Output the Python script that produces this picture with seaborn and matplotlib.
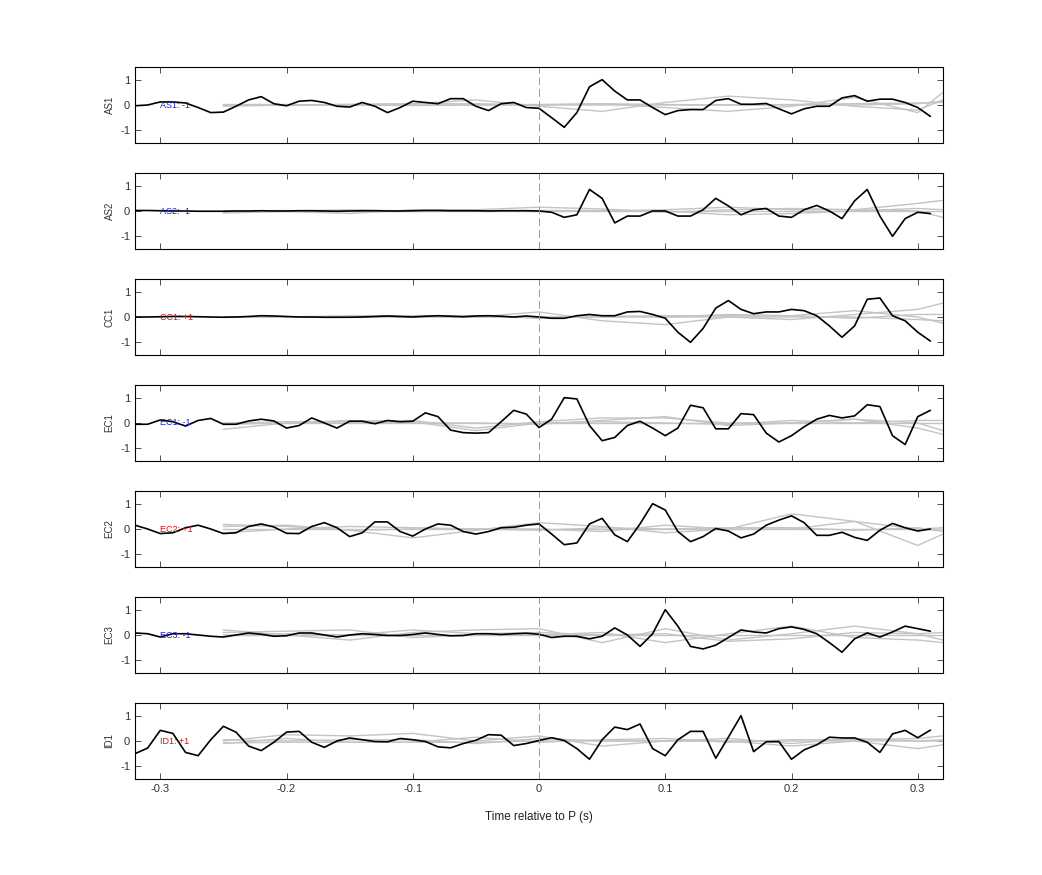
import numpy as np
import pandas as pd
import matplotlib
matplotlib.use("Agg")
import matplotlib.pyplot as plt
import seaborn as sns

sns.set_style("white")
plt.rcParams['font.family'] = ['Liberation Sans', 'DejaVu Sans']

time = np.round(np.arange(-0.32, 0.315, 0.01), 2)
gray_time = [-0.25, -0.20, -0.15, -0.10, -0.05, 0.0, 0.05, 0.10, 0.15, 0.20, 0.25, 0.30, 0.32]

stations = ["AS1", "AS2", "CC1", "EC1", "EC2", "EC3", "ID1"]
labels = ["AS1: -1", "AS2: -1", "CC1: +1", "EC1: -1", "EC2: +1", "EC3: -1", "ID1: +1"]
label_colors = ["#1f1fd0", "#1f1fd0", "#d01010", "#1f1fd0", "#d01010", "#1f1fd0", "#d01010"]

AS1 = [-0.03, 0, 0.12, 0.12, 0.08, -0.1, -0.3, -0.28, -0.05, 0.2, 0.33, 0.05, -0.03, 0.15, 0.18, 0.1,
       -0.05, -0.08, 0.1, -0.05, -0.3, -0.1, 0.15, 0.1, 0.05, 0.25, 0.25, -0.05, -0.22, 0.05, 0.1, -0.1,
       -0.13, -0.5, -0.88, -0.3, 0.72, 1.0, 0.55, 0.2, 0.2, -0.1, -0.38, -0.22, -0.18, -0.18, 0.18, 0.25,
       0.03, 0.03, 0.06, -0.15, -0.35, -0.15, -0.05, -0.05, 0.28, 0.37, 0.15, 0.23, 0.23, 0.1, -0.1, -0.45]
AS2 = [0.02, 0.02, 0.01, 0.0, 0.0, -0.01, -0.01, -0.01, 0.0, 0.0, 0.01, 0.0, 0.0, 0.01, 0.01, 0.0,
       -0.01, 0.0, 0.01, 0.01, 0.0, 0.0, 0.01, 0.02, 0.02, 0.01, 0.01, 0.01, 0.0, 0.01, 0.01, 0.01,
       0.0, -0.05, -0.25, -0.15, 0.85, 0.5, -0.47, -0.2, -0.2, 0.0, 0.0, -0.2, -0.2, 0.05, 0.5, 0.2,
       -0.15, 0.05, 0.1, -0.2, -0.25, 0.05, 0.22, 0.0, -0.3, 0.4, 0.85, -0.2, -1.0, -0.3, -0.05, -0.1]
CC1 = [0.0, 0.0, 0.01, 0.02, 0.02, 0.01, 0.0, -0.01, 0.0, 0.02, 0.05, 0.04, 0.02, 0.0, 0.0, -0.01,
       -0.01, -0.01, 0.0, 0.02, 0.04, 0.02, 0.0, 0.03, 0.05, 0.03, 0.01, 0.04, 0.05, 0.03, 0.0, 0.04,
       0.0, -0.05, -0.05, 0.05, 0.1, 0.05, 0.05, 0.2, 0.22, 0.1, -0.05, -0.6, -1.0, -0.45, 0.35, 0.65,
       0.3, 0.13, 0.2, 0.2, 0.3, 0.25, 0.05, -0.35, -0.8, -0.35, 0.7, 0.75, 0.05, -0.15, -0.6, -0.95]
EC1 = [-0.05, -0.05, 0.12, 0.05, -0.12, 0.1, 0.18, -0.05, -0.05, 0.08, 0.15, 0.08, -0.2, -0.1, 0.2, 0.0,
       -0.2, 0.07, 0.07, -0.03, 0.1, 0.05, 0.07, 0.4, 0.25, -0.28, -0.38, -0.4, -0.38, 0.05, 0.5, 0.35,
       -0.18, 0.15, 1.0, 0.95, -0.1, -0.7, -0.57, -0.1, 0.07, -0.2, -0.5, -0.2, 0.7, 0.6, -0.23, -0.23,
       0.37, 0.33, -0.4, -0.75, -0.5, -0.15, 0.15, 0.3, 0.2, 0.28, 0.72, 0.65, -0.5, -0.85, 0.25, 0.5]
EC2 = [0.15, 0.0, -0.18, -0.15, 0.05, 0.15, 0.0, -0.18, -0.15, 0.1, 0.2, 0.08, -0.17, -0.18, 0.1, 0.25,
       0.05, -0.3, -0.15, 0.28, 0.28, -0.1, -0.28, 0.0, 0.2, 0.15, -0.1, -0.2, -0.1, 0.05, 0.07, 0.15,
       0.2, -0.2, -0.62, -0.55, 0.2, 0.42, -0.23, -0.5, 0.2, 1.0, 0.75, -0.1, -0.5, -0.3, 0.02, -0.08,
       -0.35, -0.2, 0.15, 0.35, 0.52, 0.25, -0.25, -0.25, -0.13, -0.33, -0.45, -0.05, 0.22, 0.05, -0.08, 0.0]
EC3 = [0.08, 0.05, -0.08, 0.05, 0.05, 0.0, -0.05, -0.08, 0.0, 0.08, 0.03, -0.05, -0.03, 0.08, 0.08, 0.0,
       -0.08, 0.0, 0.05, 0.02, -0.02, -0.02, 0.02, 0.08, 0.02, -0.03, -0.02, 0.05, 0.05, 0.02, 0.05, 0.07,
       0.03, -0.1, -0.05, -0.05, -0.15, -0.05, 0.28, 0.0, -0.45, 0.05, 1.0, 0.35, -0.45, -0.55, -0.4, -0.1,
       0.2, 0.12, 0.08, 0.25, 0.32, 0.22, 0.05, -0.3, -0.68, -0.15, 0.08, -0.08, 0.12, 0.35, 0.25, 0.15]
ID1 = [-0.5, -0.28, 0.42, 0.3, -0.45, -0.58, 0.05, 0.58, 0.35, -0.2, -0.38, -0.05, 0.35, 0.38, -0.05, -0.25,
       0.0, 0.12, 0.05, -0.02, -0.03, 0.1, 0.05, -0.02, -0.23, -0.27, -0.1, 0.03, 0.25, 0.23, -0.18, -0.1,
       0.02, 0.13, 0.02, -0.3, -0.72, 0.05, 0.55, 0.45, 0.67, -0.3, -0.58, 0.05, 0.38, 0.38, -0.68, 0.15,
       1.0, -0.42, -0.03, -0.02, -0.72, -0.35, -0.15, 0.15, 0.12, 0.12, -0.05, -0.45, 0.28, 0.42, 0.13, 0.43]
black = [AS1, AS2, CC1, EC1, EC2, EC3, ID1]

# grey comparison traces (4 per station), values at gray_time
gray_AS1 = [[0.02, 0.02, 0.0, -0.02, 0.0, 0.02, 0.05, 0.02, 0.0, 0.02, 0.05, 0.08, 0.1],
            [-0.05, 0.0, 0.03, 0.05, 0.2, -0.05, -0.25, 0.1, 0.35, 0.2, -0.05, -0.2, 0.2],
            [0.0, -0.02, 0.0, 0.05, 0.05, 0.0, 0.05, -0.1, -0.25, -0.05, 0.3, -0.3, 0.5],
            [0.0, 0.0, 0.0, 0.0, 0.0, 0.0, 0.0, 0.0, 0.0, 0.0, 0.0, 0.05, 0.15]]
gray_AS2 = [[-0.08, -0.02, -0.1, 0.05, 0.05, 0.15, 0.08, -0.05, 0.05, 0.1, 0.05, 0.3, 0.42],
            [0.0, 0.02, 0.0, -0.02, 0.0, 0.02, 0.02, 0.0, -0.15, -0.1, 0.0, 0.1, 0.05],
            [-0.05, 0.0, 0.05, 0.0, 0.02, -0.02, 0.0, 0.05, 0.15, 0.05, 0.05, 0.0, -0.25],
            [0.0, 0.0, 0.0, 0.0, 0.0, 0.0, 0.0, 0.0, 0.0, 0.0, 0.0, 0.0, 0.0]]
gray_CC1 = [[0.0, 0.0, 0.05, 0.05, 0.0, 0.2, -0.15, -0.3, 0.0, -0.1, 0.1, 0.3, 0.55],
            [0.0, 0.0, 0.0, 0.0, 0.0, 0.0, 0.0, 0.05, 0.05, 0.05, 0.25, 0.0, -0.25],
            [0.0, 0.0, 0.0, 0.05, 0.05, -0.05, 0.05, 0.0, 0.1, 0.05, -0.05, 0.1, 0.1],
            [0.0, 0.0, 0.0, 0.0, 0.0, 0.0, 0.0, 0.0, 0.0, 0.0, 0.0, -0.1, -0.15]]
gray_EC1 = [[-0.25, 0.0, 0.05, 0.1, -0.2, 0.05, 0.2, 0.2, 0.0, 0.0, 0.15, 0.0, -0.3],
            [0.0, 0.05, 0.05, 0.0, 0.0, -0.05, 0.1, 0.25, -0.1, 0.0, 0.15, -0.2, -0.45],
            [-0.05, 0.0, 0.1, 0.05, -0.3, 0.0, 0.05, 0.0, -0.05, 0.1, 0.0, 0.1, 0.1],
            [0.0, 0.0, 0.0, 0.0, 0.0, 0.0, 0.0, 0.0, 0.0, 0.0, 0.0, 0.0, 0.0]]
gray_EC2 = [[0.18, 0.1, -0.05, -0.35, -0.05, 0.25, 0.1, -0.15, 0.0, 0.6, 0.3, -0.65, -0.2],
            [0.1, 0.15, -0.05, 0.0, 0.0, 0.0, -0.1, 0.15, 0.0, 0.0, 0.3, 0.0, 0.05],
            [-0.15, 0.0, 0.1, 0.05, 0.0, -0.05, 0.05, 0.0, 0.05, 0.05, -0.05, 0.05, -0.1],
            [0.0, 0.0, 0.0, 0.0, 0.0, 0.0, 0.0, 0.0, 0.0, 0.0, 0.0, 0.0, 0.0]]
gray_EC3 = [[0.2, 0.0, -0.2, 0.1, 0.2, 0.25, -0.3, 0.25, -0.2, 0.05, 0.35, 0.05, -0.2],
            [0.1, 0.15, 0.2, -0.1, 0.0, 0.0, 0.1, -0.3, 0.05, 0.35, -0.1, -0.2, -0.3],
            [0.0, 0.05, 0.0, 0.2, 0.05, 0.1, 0.0, 0.05, -0.25, -0.15, 0.1, 0.05, 0.1],
            [0.0, 0.0, 0.0, 0.0, 0.0, 0.0, 0.0, 0.0, 0.0, 0.0, 0.0, 0.0, 0.0]]
gray_ID1 = [[0.0, 0.25, 0.2, 0.3, 0.0, 0.2, -0.2, 0.0, 0.0, -0.2, 0.0, -0.3, -0.15],
            [-0.1, 0.1, -0.05, -0.05, 0.15, -0.05, 0.05, 0.1, -0.05, 0.05, 0.05, 0.1, 0.2],
            [0.05, 0.0, 0.05, 0.05, -0.1, 0.1, 0.0, 0.0, 0.1, -0.1, 0.1, 0.0, 0.05],
            [-0.08, -0.05, -0.05, -0.05, -0.05, 0.0, 0.0, 0.0, 0.0, 0.0, 0.0, 0.0, 0.0]]
grays = [gray_AS1, gray_AS2, gray_CC1, gray_EC1, gray_EC2, gray_EC3, gray_ID1]

fig = plt.figure(figsize=(10.42, 8.75), dpi=100)
left, width = 135 / 1042, (943 - 135) / 1042
h = 76 / 875
for i, st in enumerate(stations):
    top = 67 + i * 106
    ax = fig.add_axes([left, 1 - (top + 76) / 875, width, h])
    for g in grays[i]:
        sns.lineplot(x=gray_time, y=g, ax=ax, color="#c4c4c4", lw=1.0, estimator=None)
    sns.lineplot(x=time, y=black[i], ax=ax, color="black", lw=1.2, estimator=None)
    ax.axvline(0, color="#999999", lw=0.7, ls=(0, (8, 4)))
    ax.text(-0.3, 0, labels[i], color=label_colors[i], fontsize=6.5, va="center", ha="left")
    ax.set_xlim(-0.32, 0.32)
    ax.set_ylim(-1.5, 1.5)
    ax.set_yticks([-1, 0, 1])
    ax.set_yticklabels(["-1", "0", "1"])
    ax.set_xticks([-0.3, -0.2, -0.1, 0, 0.1, 0.2, 0.3])
    ax.set_ylabel(st, fontsize=7, color="#333333")
    ax.tick_params(direction="in", top=True, right=True, bottom=True, left=True,
                   length=4, width=0.6, labelsize=8, colors="#333333")
    for s in ax.spines.values():
        s.set_linewidth(0.8)
        s.set_color("black")
    if i < len(stations) - 1:
        ax.set_xticklabels([])
    else:
        ax.set_xticklabels(["-0.3", "-0.2", "-0.1", "0", "0.1", "0.2", "0.3"])
        ax.set_xlabel("Time relative to P (s)", fontsize=8.5, color="#222222", labelpad=12)

fig.savefig("out.png", dpi=100)
